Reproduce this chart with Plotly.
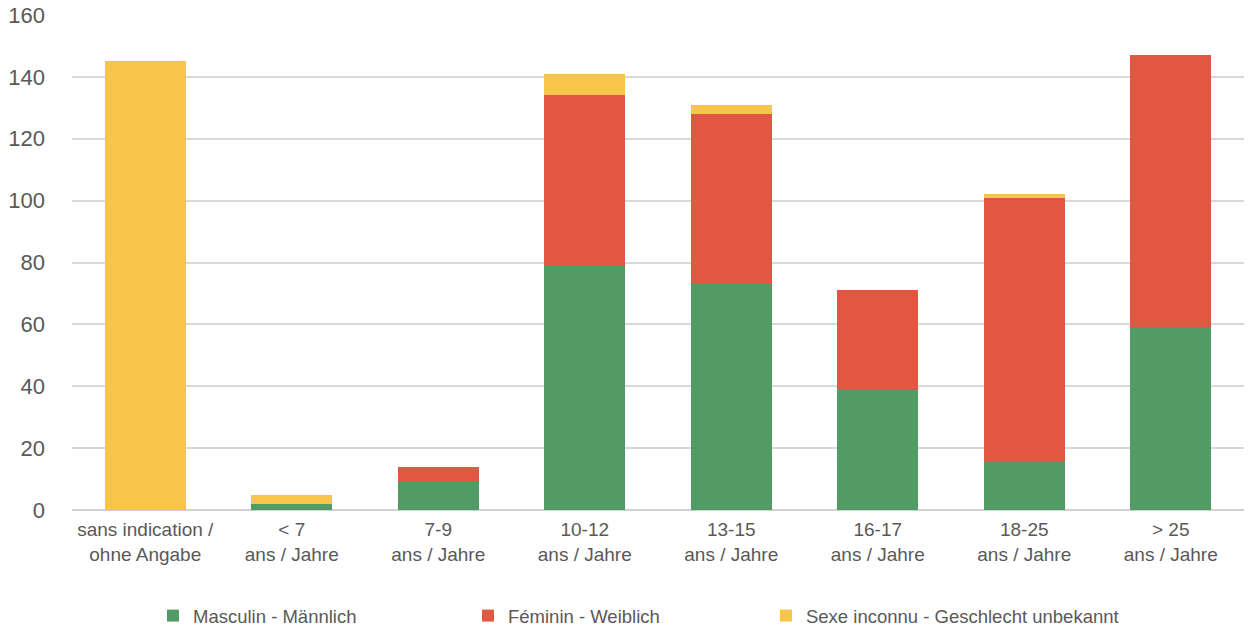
import plotly.graph_objects as go

# Age groups (two-line labels, French / German)
categories = [
    "sans indication /<br>ohne Angabe",
    "< 7<br>ans / Jahre",
    "7-9<br>ans / Jahre",
    "10-12<br>ans / Jahre",
    "13-15<br>ans / Jahre",
    "16-17<br>ans / Jahre",
    "18-25<br>ans / Jahre",
    "> 25<br>ans / Jahre",
]

masculin = [0, 2, 9, 79, 73, 39, 16, 59]
feminin = [0, 0, 5, 55, 55, 32, 85, 88]
inconnu = [145, 3, 0, 7, 3, 0, 1, 0]

series_names = [
    "Masculin - Männlich",
    "Féminin - Weiblich",
    "Sexe inconnu - Geschlecht unbekannt",
]
series_colors = ["#519C65", "#E15741", "#F7C54A"]

y_ticks = [0, 20, 40, 60, 80, 100, 120, 140, 160]

text_color = "#595959"
font_family = "Liberation Sans, Arial, Helvetica, sans-serif"

# one legend box per series, so each entry sits at its own spot along the bottom
legend_ids = ["legend", "legend2", "legend3"]
legend_x = [0.1223, 0.3741, 0.6123]

fig = go.Figure()
for name, values, color, lid in zip(series_names, [masculin, feminin, inconnu],
                                    series_colors, legend_ids):
    fig.add_trace(go.Bar(
        x=categories,
        y=values,
        name=name,
        legend=lid,
        marker=dict(color=color, line=dict(width=0)),
        hoverinfo="x+y+name",
    ))

legend_layouts = {}
for lid, lx in zip(legend_ids, legend_x):
    legend_layouts[lid] = dict(
        orientation="h",
        xref="container",
        yref="container",
        x=lx,
        xanchor="left",
        y=0.019,
        yanchor="middle",
        font=dict(size=18.5, color=text_color),
        bgcolor="rgba(0,0,0,0)",
        itemclick=False,
        itemdoubleclick=False,
    )

fig.update_layout(
    barmode="stack",
    bargap=0.45,
    width=1251,
    height=628,
    margin=dict(l=72, r=7, t=15, b=118, autoexpand=False),
    paper_bgcolor="white",
    plot_bgcolor="white",
    font=dict(family=font_family, color=text_color, size=18),
    showlegend=True,
    xaxis=dict(
        showgrid=False,
        showline=False,
        ticks="",
        automargin=False,
        ticklabelstandoff=6,
        tickfont=dict(size=19, color=text_color),
        fixedrange=True,
    ),
    yaxis=dict(
        range=[0, 160],
        tickvals=y_ticks,
        showgrid=True,
        gridcolor="#D9D9D9",
        gridwidth=1.5,
        zeroline=True,
        zerolinecolor="#D0D0D0",
        zerolinewidth=2,
        ticks="",
        automargin=False,
        ticklabelstandoff=26,
        tickfont=dict(size=22, color=text_color),
        fixedrange=True,
    ),
    **legend_layouts,
)

fig.write_html("out.html")
